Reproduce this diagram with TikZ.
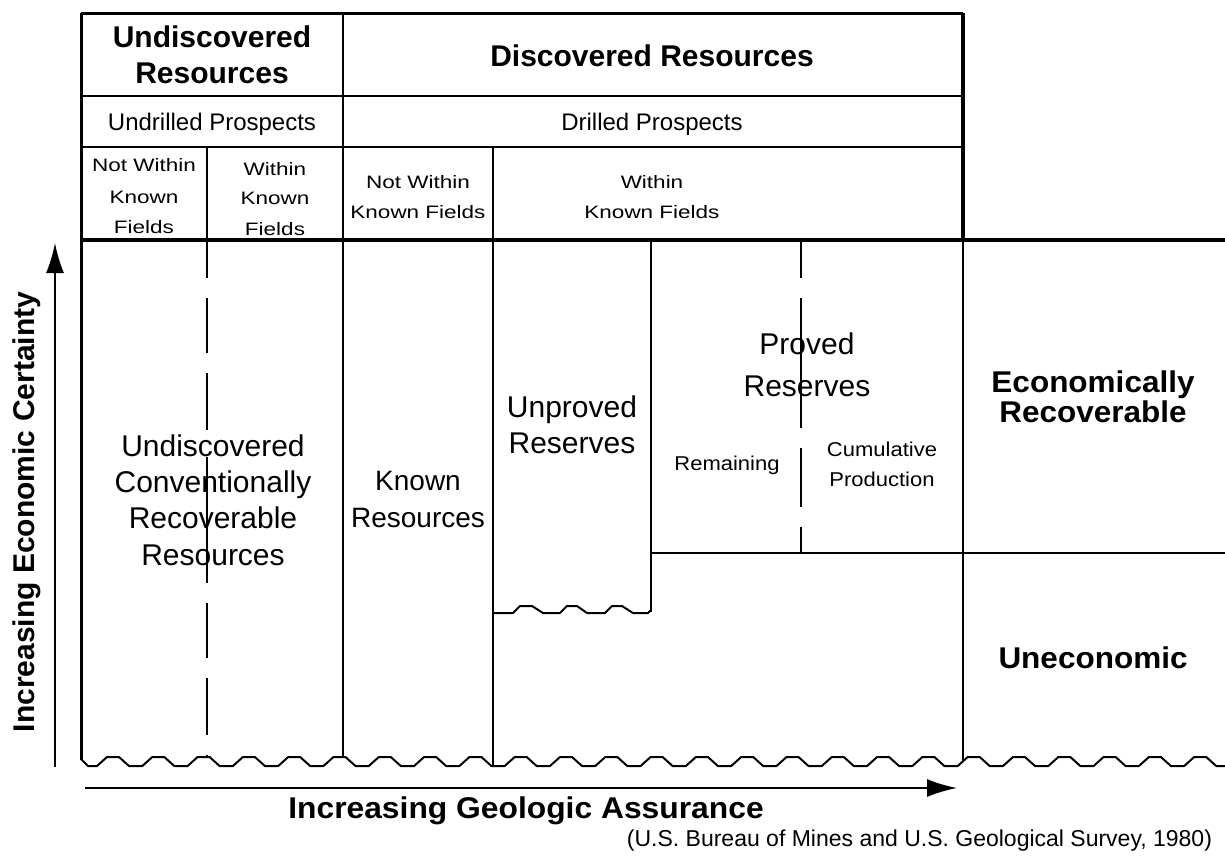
\documentclass[tikz,border=0pt]{standalone}
\usepackage{fontspec}
\setmainfont{Liberation Sans}
\usetikzlibrary{arrows.meta}
\tikzset{
  txt/.style={anchor=base, inner sep=0pt, outer sep=0pt},
  hd/.style={txt, font=\fontsize{30}{36}\bfseries\selectfont},
  rg/.style={txt, font=\fontsize{24}{28}\selectfont},
  sm/.style={txt, font=\fontsize{18}{22}\selectfont, xscale=1.25},
  big/.style={txt, font=\fontsize{30}{36}\selectfont},
  mid/.style={txt, font=\fontsize{20}{24}\selectfont, xscale=1.1},
  thin/.style={line width=2pt},
  frame/.style={line width=3pt},
  heavy/.style={line width=4.5pt},
  axis/.style={line width=2pt, -{Latex[length=30pt,width=18pt]}},
}
\begin{document}
\begin{tikzpicture}[x=1pt,y=-1pt]
\useasboundingbox (0,0) rectangle (1225,855);
% ---------- header grid ----------
\draw[frame] (81,13) -- (963,13);
\draw[line width=4pt] (963,13) -- (963,240);
\draw[thin] (81,96) -- (963,96);
\draw[thin] (81,147) -- (963,147);
\draw[heavy] (81,240) -- (1225,240);
\draw[frame] (81,13) -- (81,760);
\draw[thin] (343,13) -- (343,757);
\draw[thin] (207,147) -- (207,240);
\draw[thin] (493,147) -- (493,766);
% ---------- body grid ----------
\draw[thin] (651,240) -- (651,612);
\draw[thin] (963,240) -- (963,761);
\draw[thin] (651,553) -- (1225,553);
\draw[thin] (207,240) -- (207,278) (207,298) -- (207,353) (207,373) -- (207,430)
  (207,457) -- (207,583) (207,603) -- (207,658) (207,678) -- (207,735) (207,755) -- (207,758);
\draw[thin] (801,240) -- (801,278) (801,298) -- (801,428) (801,448) -- (801,507) (801,527) -- (801,553);
% ---------- wavy lines ----------
\begin{scope}
\clip (0,0) rectangle (1225,855);
\draw[thin, line join=round] (81,759) -- (88,766)
  \foreach \k in {0,...,25} {
    -- ({97+45.3*\k},766) -- ({107+45.3*\k},757) -- ({119+45.3*\k},757) -- ({129+45.3*\k},766)
  };
\end{scope}
\draw[thin, line join=round] (493,613) -- (513,613) -- (520,606) -- (532,606) -- (543,613) -- (560,613)
  -- (567,606) -- (577,606) -- (587,613) -- (605,613) -- (612,606) -- (622,606) -- (633,613)
  -- (648,613) -- (651,610);
% ---------- axes ----------
\coordinate (ya) at (55,767);
\coordinate (yb) at (55,243);
\coordinate (xa) at (85,788);
\coordinate (xb) at (957,788);
\draw[axis] (ya) -- (yb);
\draw[axis] (xa) -- (xb);
% ---------- header texts ----------
\node[hd] (ur1) at (212,47) {Undiscovered};
\node[hd] (ur2) at (212,83) {Resources};
\node[hd] (dr) at (652,66) {Discovered Resources};
\node[rg] (up) at (212,130) {Undrilled Prospects};
\node[rg] (dp) at (652,130) {Drilled Prospects};
\node[sm] (c1a) at (144,171) {Not Within};
\node[sm] (c1b) at (144,203) {Known};
\node[sm] (c1c) at (144,233) {Fields};
\node[sm] (c2a) at (275,175) {Within};
\node[sm] (c2b) at (275,204) {Known};
\node[sm] (c2c) at (275,235) {Fields};
\node[sm] (c3a) at (418,188) {Not Within};
\node[sm] (c3b) at (418,218) {Known Fields};
\node[sm] (c4a) at (652,188) {Within};
\node[sm] (c4b) at (652,218) {Known Fields};
% ---------- body texts ----------
\node[big] (u1) at (213,456) {Undiscovered};
\node[big] (u2) at (213,492) {Conventionally};
\node[big] (u3) at (213,528) {Recoverable};
\node[big] (u4) at (213,565) {Resources};
\node[big, font=\fontsize{28}{34}\selectfont] (k1) at (418,490) {Known};
\node[big, font=\fontsize{28}{34}\selectfont] (k2) at (418,527) {Resources};
\node[big] (un1) at (572,417) {Unproved};
\node[big] (un2) at (572,453) {Reserves};
\node[big] (pr1) at (807,354) {Proved};
\node[big] (pr2) at (807,396) {Reserves};
\node[mid] (rem) at (727,470) {Remaining};
\node[mid] (cum1) at (882,456) {Cumulative};
\node[mid] (cum2) at (882,486) {Production};
\node[hd, xscale=1.05] (ec1) at (1093,392) {Economically};
\node[hd, xscale=1.05] (ec2) at (1093,422) {Recoverable};
\node[hd, xscale=1.05] (une) at (1093,668) {Uneconomic};
% ---------- axis labels ----------
\node[hd, xscale=1.06] (xl) at (526,818) {Increasing Geologic Assurance};
\node[hd, rotate=90] (yl) at (34,512) {Increasing Economic Certainty};
\node[txt, anchor=base east, font=\fontsize{23}{28}\selectfont] (src) at (1212,846) {(U.S. Bureau of Mines and U.S. Geological Survey, 1980)};
\end{tikzpicture}
\end{document}
